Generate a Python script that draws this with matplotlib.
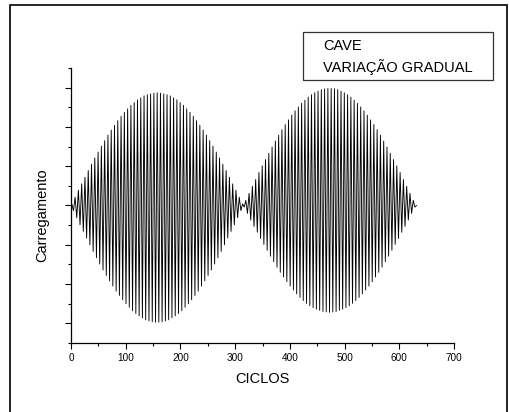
import numpy as np
import matplotlib
matplotlib.use("Agg")
import matplotlib.pyplot as plt
from matplotlib.patches import Rectangle
from matplotlib.ticker import MultipleLocator, NullFormatter

plt.rcParams['font.family'] = ['Liberation Sans', 'DejaVu Sans']

# Peak loads of each oscillation (positive = upper peaks, magnitude of lower peaks)
lobe1_upper = [0.04, 0.21, 0.39, 0.55, 0.72, 0.89, 1.05, 1.21, 1.36, 1.51, 1.65, 1.79, 1.92,
               2.04, 2.16, 2.27, 2.37, 2.46, 2.55, 2.62, 2.69, 2.74, 2.79, 2.82, 2.84, 2.86,
               2.87, 2.86, 2.84, 2.82, 2.79, 2.74, 2.69, 2.62, 2.55, 2.46, 2.37, 2.27, 2.16,
               2.04, 1.92, 1.79, 1.65, 1.51, 1.36, 1.21, 1.05, 0.89, 0.72, 0.55, 0.39, 0.21, 0.04]
lobe1_lower = [0.13, 0.31, 0.49, 0.66, 0.83, 1.00, 1.17, 1.33, 1.49, 1.64, 1.78, 1.92, 2.05,
               2.18, 2.29, 2.40, 2.50, 2.59, 2.68, 2.75, 2.81, 2.86, 2.91, 2.94, 2.96, 2.97,
               2.97, 2.96, 2.94, 2.91, 2.86, 2.81, 2.75, 2.68, 2.59, 2.50, 2.40, 2.29, 2.18,
               2.05, 1.92, 1.78, 1.64, 1.49, 1.33, 1.17, 1.00, 0.83, 0.66, 0.49, 0.31, 0.13]
lobe2_lower = [0.04, 0.20, 0.37, 0.53, 0.68, 0.84, 0.99, 1.14, 1.29, 1.43, 1.57, 1.70, 1.82,
               1.94, 2.05, 2.15, 2.25, 2.34, 2.42, 2.49, 2.55, 2.60, 2.64, 2.67, 2.70, 2.71,
               2.72, 2.71, 2.70, 2.67, 2.64, 2.60, 2.55, 2.49, 2.42, 2.34, 2.25, 2.15, 2.05,
               1.94, 1.82, 1.70, 1.57, 1.43, 1.29, 1.14, 0.99, 0.84, 0.68, 0.53, 0.37, 0.20, 0.04]
lobe2_upper = [0.13, 0.31, 0.49, 0.66, 0.84, 1.01, 1.17, 1.33, 1.49, 1.64, 1.79, 1.93, 2.06,
               2.18, 2.30, 2.41, 2.51, 2.60, 2.68, 2.76, 2.82, 2.87, 2.91, 2.95, 2.97, 2.98,
               2.98, 2.97, 2.95, 2.91, 2.87, 2.82, 2.76, 2.68, 2.60, 2.51, 2.41, 2.30, 2.18,
               2.06, 1.93, 1.79, 1.64, 1.49, 1.33, 1.17, 1.01, 0.84, 0.66, 0.49, 0.31, 0.13]

cycles_between_peaks = 3.0
legend_labels = ["CAVE", "VARIAÇÃO GRADUAL"]
x_label = "CICLOS"
y_label = "Carregamento"

# Assemble the alternating load history
load = [0.0]
for up, lo in zip(lobe1_upper, lobe1_lower):
    load += [up, -lo]
load.append(lobe1_upper[-1])
for lo, up in zip(lobe2_lower, lobe2_upper):
    load += [-lo, up]
load += [-lobe2_lower[-1], 0.0]
load = np.array(load)
n_peaks = len(load) - 2
cycles = np.concatenate([[0.0],
                         cycles_between_peaks / 2 + cycles_between_peaks * np.arange(n_peaks),
                         [cycles_between_peaks / 2 + cycles_between_peaks * n_peaks]])

fig = plt.figure(figsize=(5.09, 4.12), dpi=100)
W, H = 509, 412

# Outer frame
fig.patches.append(Rectangle((10 / W, -0.02), 497 / W, 1.02 - 5 / H,
                             transform=fig.transFigure, fill=False,
                             edgecolor='black', linewidth=1.2))

ax = fig.add_axes([71 / W, (H - 343) / H, (454 - 71) / W, (343 - 68) / H])
ax.plot(cycles, load, color='black', linewidth=0.65)

ax.set_xlim(0, 700)
ax.set_ylim(-3.5, 3.5)
ax.spines['top'].set_visible(False)
ax.spines['right'].set_visible(False)
for s in ('left', 'bottom'):
    ax.spines[s].set_linewidth(0.9)

ax.xaxis.set_major_locator(MultipleLocator(100))
ax.xaxis.set_minor_locator(MultipleLocator(50))
ax.yaxis.set_major_locator(MultipleLocator(1))
ax.yaxis.set_minor_locator(MultipleLocator(0.5))
ax.yaxis.set_major_formatter(NullFormatter())
ax.tick_params(axis='both', which='major', direction='out', length=4.5, width=0.8,
               labelsize=7.2, pad=3)
ax.tick_params(axis='both', which='minor', direction='out', length=2.5, width=0.8)

ax.set_xlabel(x_label, fontsize=10.5, labelpad=6)
ax.set_ylabel(y_label, fontsize=10.5)
ax.yaxis.set_label_coords(-0.058, 0.465)

# Legend box with text entries
fig.patches.append(Rectangle((303 / W, 1 - 80 / H), 190 / W, 48 / H,
                             transform=fig.transFigure, fill=False,
                             edgecolor='#333333', linewidth=0.9))
fig.text(323 / W, 1 - 46 / H, legend_labels[0], fontsize=10.5, va='center', ha='left')
fig.text(323 / W, 1 - 67 / H, legend_labels[1], fontsize=10.5, va='center', ha='left')

fig.savefig("out.png", dpi=100)
